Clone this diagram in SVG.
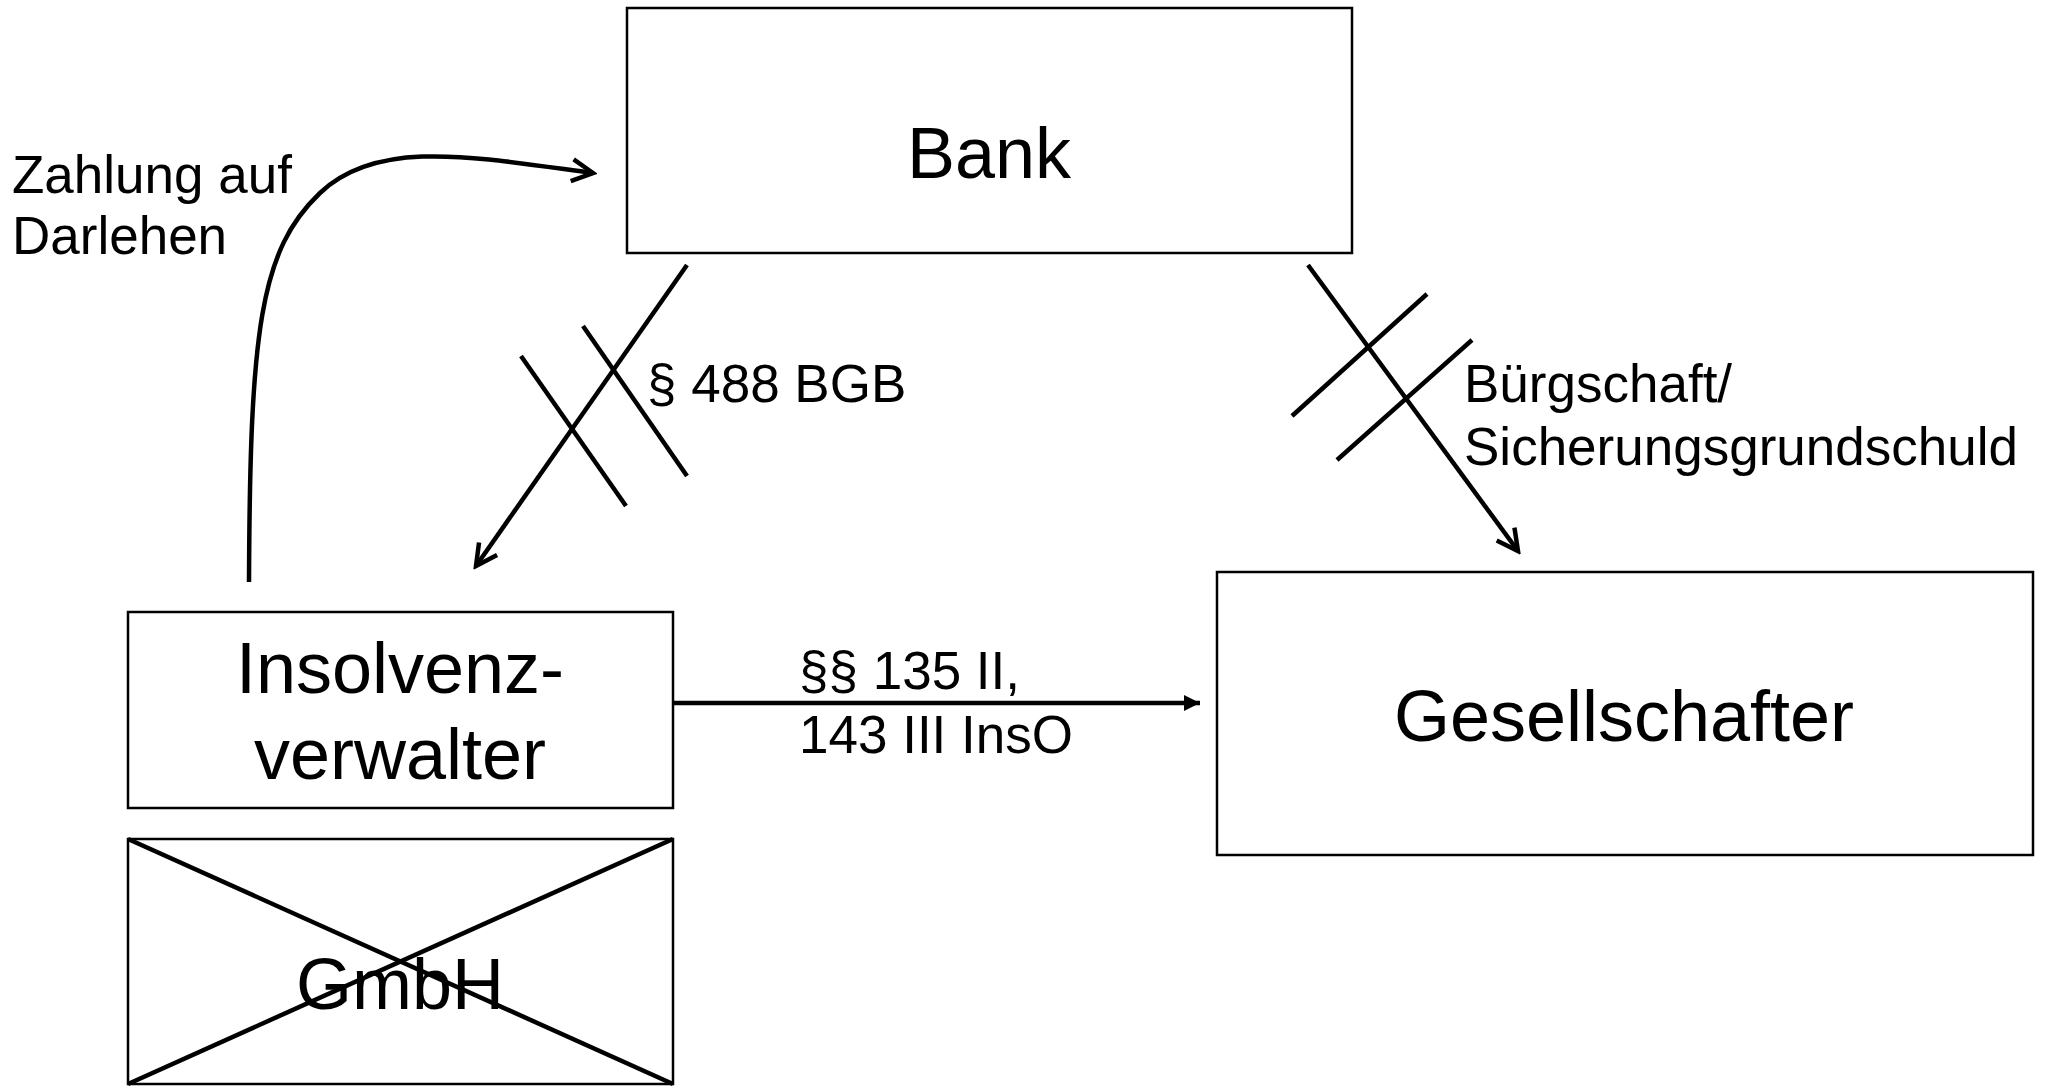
<svg xmlns="http://www.w3.org/2000/svg" width="2046" height="1087" viewBox="0 0 2046 1087">
  <style>
    .box { fill: #ffffff; stroke: #000000; stroke-width: 2.5; }
    .big { font-family: "Liberation Sans", Arial, sans-serif; font-size: 72px; fill: #000000; text-anchor: middle; }
    .small { font-family: "Liberation Sans", Arial, sans-serif; font-size: 53px; fill: #000000; }
    .conn { fill: none; stroke: #000000; stroke-width: 4.5; }
    .strike { fill: none; stroke: #000000; stroke-width: 4.5; }
  </style>
  <defs>
    <marker id="open" markerUnits="userSpaceOnUse" viewBox="-26 -14 30 28" refX="0" refY="0" markerWidth="30" markerHeight="28" orient="auto">
      <path d="M -21 -11 L 0 0 L -21 11" fill="none" stroke="#000000" stroke-width="4.5" stroke-linejoin="miter"/>
    </marker>
    <marker id="filled" markerUnits="userSpaceOnUse" viewBox="-18 -10 20 20" refX="0" refY="0" markerWidth="20" markerHeight="20" orient="auto">
      <path d="M -16 -8 L 0 0 L -16 8 Z" fill="#000000"/>
    </marker>
  </defs>

  <g id="node-bank">
    <rect class="box" x="627" y="8" width="725" height="245"/>
    <text class="big" x="989" y="178">Bank</text>
  </g>

  <g id="node-insolvenzverwalter">
    <rect class="box" x="128" y="612" width="545" height="196"/>
    <text class="big" x="400" y="693">Insolvenz-</text>
    <text class="big" x="400" y="779">verwalter</text>
  </g>

  <g id="node-gmbh">
    <rect class="box" x="128" y="839" width="545" height="245"/>
    <text class="big" x="400" y="1009">GmbH</text>
    <line class="strike" x1="128" y1="839" x2="673" y2="1084"/>
    <line class="strike" x1="673" y1="839" x2="128" y2="1084"/>
  </g>

  <g id="node-gesellschafter">
    <rect class="box" x="1217" y="572" width="816" height="283"/>
    <text class="big" x="1624" y="741">Gesellschafter</text>
  </g>

  <g id="connectors">
    <path class="conn" d="M 249 582 C 250 330 260 250 320 193 C 378 138 474 157 593 173" marker-end="url(#open)"/>
    <line class="conn" x1="687" y1="265" x2="476" y2="566" marker-end="url(#open)"/>
    <line class="strike" x1="583" y1="326" x2="687" y2="476"/>
    <line class="strike" x1="521" y1="356" x2="626" y2="506"/>
    <line class="conn" x1="1308" y1="265" x2="1518" y2="551" marker-end="url(#open)"/>
    <line class="strike" x1="1427" y1="294" x2="1292" y2="416"/>
    <line class="strike" x1="1472" y1="340" x2="1337" y2="460"/>
    <line class="conn" x1="673" y1="703" x2="1200" y2="703" stroke-width="5" marker-end="url(#filled)"/>
  </g>

  <g id="labels">
    <text class="small" x="12" y="193">Zahlung auf</text>
    <text class="small" x="12" y="254">Darlehen</text>
    <text class="small" x="647" y="402">§ 488 BGB</text>
    <text class="small" x="1464" y="402">Bürgschaft/</text>
    <text class="small" x="1464" y="465">Sicherungsgrundschuld</text>
    <text class="small" x="799" y="689">§§ 135 II,</text>
    <text class="small" x="799" y="753">143 III InsO</text>
  </g>
</svg>
